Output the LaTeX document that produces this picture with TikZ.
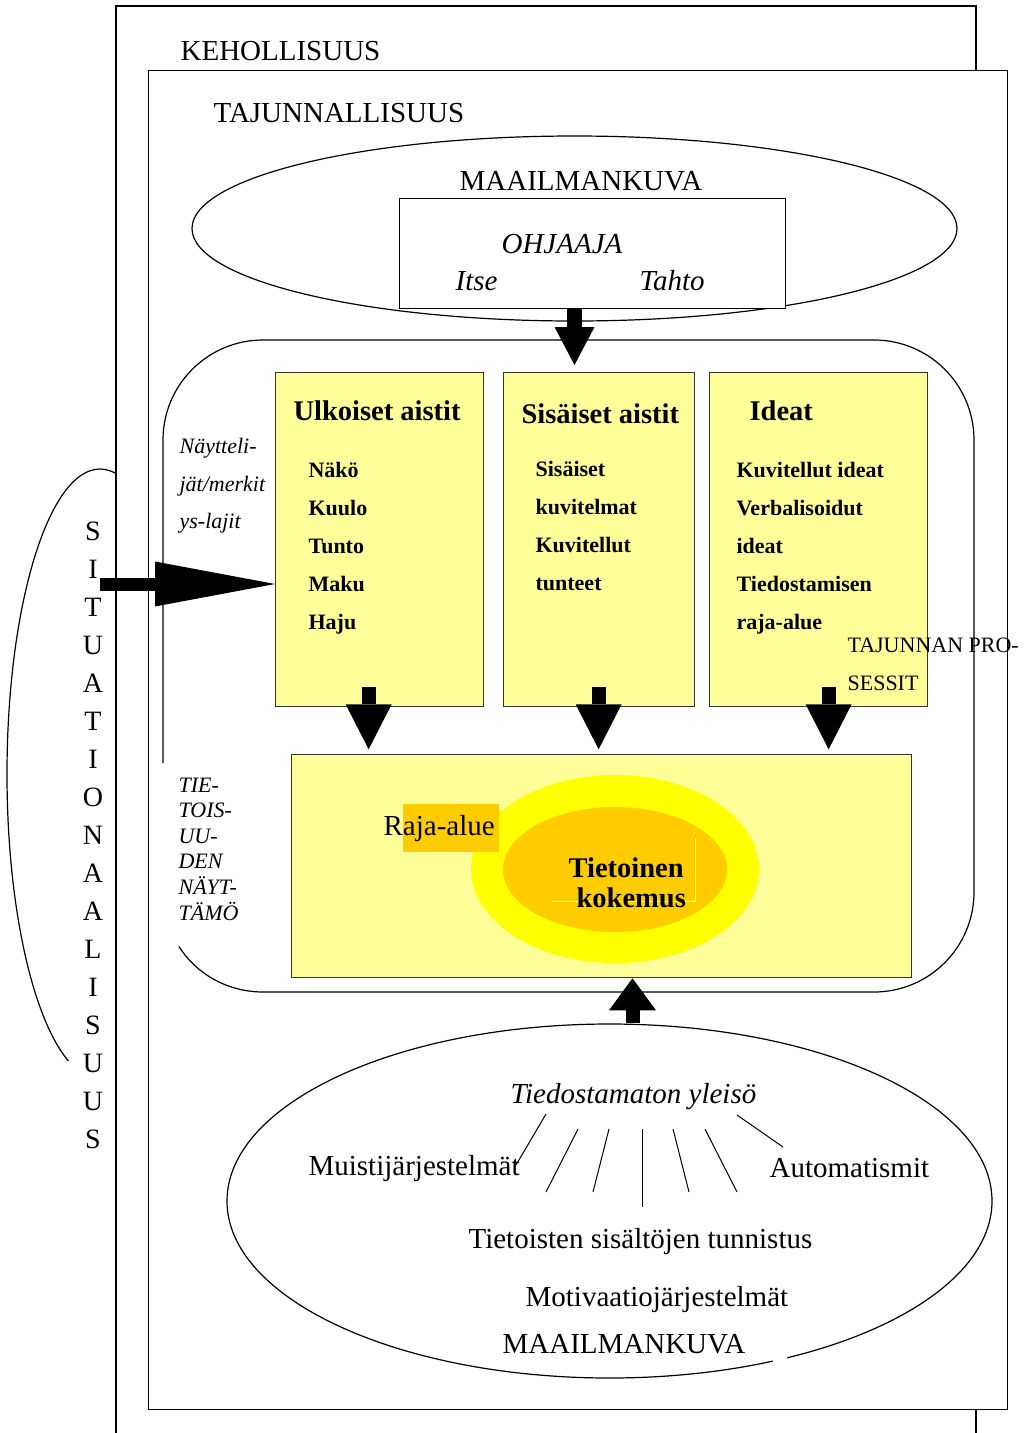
\documentclass[tikz,border=0pt]{standalone}
\usepackage{fontspec}
\setmainfont{Liberation Serif}
\usetikzlibrary{arrows.meta,shapes.geometric}
\definecolor{paleyellow}{HTML}{FFFF99}
\definecolor{brightyellow}{HTML}{FFFF00}
\definecolor{amber}{HTML}{FFCC00}
\definecolor{boxline}{HTML}{333333}
\newcommand{\txtsize}[1]{\fontsize{#1}{#1}\selectfont}
\tikzset{
  lbl/.style={inner sep=0pt,anchor=base west,font={\txtsize{29}}},
  itl/.style={lbl,font={\txtsize{29}\itshape}},
  ttl/.style={lbl,font={\txtsize{28.5}\bfseries}},
  itm/.style={lbl,font={\txtsize{22}\bfseries}},
  side/.style={lbl,font={\txtsize{22}\itshape}},
  ybox/.style={draw=boxline,fill=paleyellow,line width=1.3pt,inner sep=0pt,anchor=north west},
  fat/.style n args={3}{line width=#1,-{Triangle[length=#2,width=#3,line width=0pt]}}
}

\begin{document}
\begin{tikzpicture}[x=1pt,y=-1pt,line width=1.2pt]
  \useasboundingbox (0,0) rectangle (1026,1433);

  % kehollisuus frame and situationaalisuus
  \draw (116,1433) -- (116,6) -- (976,6) -- (976,1433);
  \node[lbl] (keho) at (180,60) {KEHOLLISUUS};
  \begin{scope}
    \clip (0,0) rectangle (116,1060);
    \draw (100,774) ellipse [x radius=93, y radius=305];
  \end{scope}
  \foreach \ch [count=\i from 0] in {S,I,T,U,A,T,I,O,N,A,A,L,I,S,U,U,S}
    \node[lbl,anchor=base,font={\txtsize{28}}] (sit\i) at (93,540+38*\i) {\ch};

  % tajunnallisuus frame
  \node[draw,fill=white,inner sep=0pt,anchor=north west,minimum width=859pt,minimum height=1339pt] (taju) at (148,70) {};
  \node[lbl] (tajut) at (213,122) {TAJUNNALLISUUS};

  % maailmankuva with ohjaaja
  \node[draw,ellipse,minimum width=765pt,minimum height=185pt] (world) at (574.5,228.5) {};
  \node[lbl] (worldt) at (459,190) {MAAILMANKUVA};
  \node[draw,fill=white,line width=0.8pt,inner sep=0pt,anchor=north west,minimum width=386pt,minimum height=110pt] (ohj) at (399,198) {};
  \node[itl] (ohjt) at (501,253) {OHJAAJA};
  \node[itl] (itse) at (455,290) {Itse};
  \node[itl] (tahto) at (639,290) {Tahto};

  % tajunnan prosessit
  \draw[rounded corners=100pt] (163,763) -- (163,340) -- (974,340) -- (974,992) -- (263,992);
  \draw (263,992) .. controls (229,992) and (197,975) .. (179,946.5);
  \node[side] (nay1) at (179,453) {Näytteli-};
  \node[side] (nay2) at (179,491) {jät/merkit};
  \node[side] (nay3) at (179,528) {ys-lajit};
  \foreach \t [count=\i from 0] in {TIE-,TOIS-,UU-,DEN,NÄYT-,TÄMÖ}
    \node[side] (tie\i) at (178,792+25.6*\i) {\t};

  \node[ybox,minimum width=208pt,minimum height=334pt] (ulk) at (275,372) {};
  \node[ybox,minimum width=191pt,minimum height=334pt] (sis) at (503,372) {};
  \node[ybox,minimum width=218pt,minimum height=334pt] (ide) at (709,372) {};
  \node[ttl] (ulkt) at (293,420) {Ulkoiset aistit};
  \node[ttl] (sist) at (521,423) {Sisäiset aistit};
  \node[ttl] (idet) at (749,420) {Ideat};
  \foreach \t [count=\i from 0] in {Näkö,Kuulo,Tunto,Maku,Haju}
    \node[itm] (ulk\i) at (308,477+38*\i) {\t};
  \foreach \t [count=\i from 0] in {Sisäiset,kuvitelmat,Kuvitellut,tunteet}
    \node[itm] (sis\i) at (535,476+38*\i) {\t};
  \foreach \t [count=\i from 0] in {Kuvitellut ideat,Verbalisoidut,ideat,Tiedostamisen,raja-alue}
    \node[itm] (ide\i) at (736,477+38*\i) {\t};

  % tietoisuuden naytamo
  \node[ybox,minimum width=620pt,minimum height=223pt] (aware) at (291,754) {};
  \node[ellipse,fill=brightyellow,inner sep=0pt,minimum width=288pt,minimum height=188pt] (halo) at (615,869) {};
  \node[ellipse,fill=amber,inner sep=0pt,minimum width=224pt,minimum height=125pt] (core) at (615,869.5) {};
  \node[fill=amber,inner sep=0pt,anchor=north west,minimum width=96pt,minimum height=48pt] (rajabg) at (402,803) {};
  \node[lbl] (raja) at (383,835) {Raja-alue};
  \draw[white,line width=0.6pt] (552,901) -- (695,901) -- (695,838);
  \node[ttl] (tiet) at (568,877) {Tietoinen};
  \node[ttl] (koke) at (576,907) {kokemus};

  % tiedostamaton
  \node[draw,ellipse,minimum width=765pt,minimum height=354pt] (uncon) at (609.5,1201) {};
  \fill[white] (773,1351) rectangle (787,1368);
  \node[itl] (yleiso) at (510,1103) {Tiedostamaton yleisö};
  \node[lbl] (muisti) at (308,1175) {Muistijärjestelmät};
  \node[lbl] (auto) at (769,1177) {Automatismit};
  \node[lbl] (tunn) at (468,1248) {Tietoisten sisältöjen tunnistus};
  \node[lbl] (moti) at (525,1306) {Motivaatiojärjestelmät};
  \node[lbl] (world2) at (502,1353) {MAAILMANKUVA};
  \foreach \xa/\ya/\xb/\yb in {546/1114/516/1165,578/1129/546/1192,609/1129/593/1192,642/1129/642/1207,673/1129/689/1192,705/1129/737/1192,737/1115/783/1147}
    \draw[line width=1pt] (\xa,\ya) -- (\xb,\yb);

  % block arrows
  \coordinate (ohjout) at (574.5,308);
  \draw[fat={15pt}{38pt}{40pt}] (ohjout) -- ([yshift=-25pt]ohjout |- 0,340);
  \coordinate (sitfoot) at (100,584);
  \draw[fat={13pt}{120pt}{45pt}] (sitfoot) -- (sitfoot -| ulk.west);
  \draw[fat={14pt}{45pt}{46pt}] ([xshift=-11pt,yshift=20pt]ulk.south) -- ([xshift=-11pt,yshift=-42pt]ulk.south);
  \draw[fat={14pt}{45pt}{46pt}] ([xshift=-0.5pt,yshift=20pt]sis.south) -- ([xshift=-0.5pt,yshift=-42pt]sis.south);
  \draw[fat={14pt}{45pt}{46pt}] ([xshift=10pt,yshift=20pt]ide.south) -- ([xshift=10pt,yshift=-42pt]ide.south);
  \coordinate (upfoot) at (632.5,1023);
  \draw[fat={14pt}{32pt}{47pt}] (upfoot) -- (upfoot |- aware.south);

  \node[lbl,font={\txtsize{22}}] (proc1) at (847,652) {TAJUNNAN PRO-};
  \node[lbl,font={\txtsize{22}}] (proc2) at (847,690) {SESSIT};
\end{tikzpicture}
\end{document}
